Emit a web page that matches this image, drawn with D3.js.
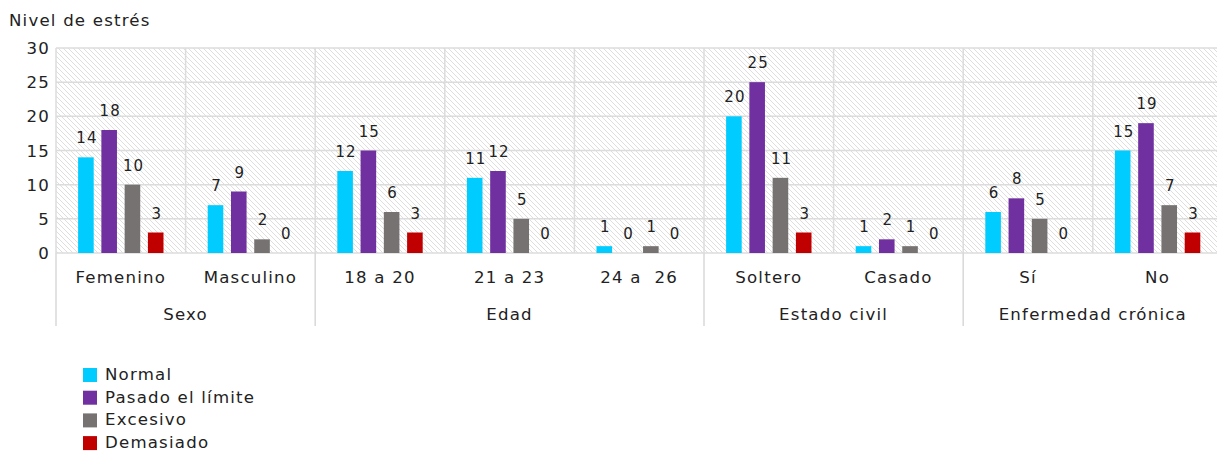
<!DOCTYPE html>
<html>
<head>
<meta charset="utf-8">
<script src="https://cdn.jsdelivr.net/npm/d3@7"></script>
<style>
  body { margin: 0; background: #fff; }
  text { font-family: "DejaVu Sans", Verdana, sans-serif; font-size: 16.6px; fill: #222; letter-spacing: 1.2px; }
</style>
</head>
<body>
<div id="chart"></div>
<script>
// Categories and their groups
var categories = ["Femenino", "Masculino", "18 a 20", "21 a 23", "24 a  26", "Soltero", "Casado", "Sí", "No"];
var groups = ["Sexo", "Edad", "Estado civil", "Enfermedad crónica"];
var groupSizes = [2, 3, 2, 2];

// Series values, one per category
var series = ["Normal", "Pasado el límite", "Excesivo", "Demasiado"];
var normal    = [14, 7, 12, 11, 1, 20, 1, 6, 15];
var pasado    = [18, 9, 15, 12, 0, 25, 2, 8, 19];
var excesivo  = [10, 2, 6, 5, 1, 11, 1, 5, 7];
var demasiado = [3, 0, 3, 0, 0, 3, 0, 0, 3];
var colors = ["#00ccff", "#7030a0", "#777272", "#c00000"];

var yTicks = [0, 5, 10, 15, 20, 25, 30];

var width = 1217, height = 452;
var plotLeft = 56, plotTop = 48, zeroY = 253;
var colWidth = 129.6;

var svg = d3.select("#chart").append("svg")
  .attr("width", width)
  .attr("height", height);

// hatch pattern for the plot background
var pat = svg.append("defs").append("pattern")
  .attr("id", "hatch")
  .attr("patternUnits", "userSpaceOnUse")
  .attr("width", 5)
  .attr("height", 5);
pat.append("rect").attr("width", 5).attr("height", 5).attr("fill", "#fff");
pat.append("path")
  .attr("d", "M-1,-1 L6,6 M-1,4 L1,6 M4,-1 L6,1")
  .attr("stroke", "#dedede")
  .attr("stroke-width", 1);

var x = d3.scaleBand()
  .domain(categories)
  .range([plotLeft, plotLeft + colWidth * categories.length]);

var xs = d3.scaleBand()
  .domain(series)
  .range([0, colWidth])
  .paddingInner(0.33)
  .paddingOuter(0.95);

var y = d3.scaleLinear()
  .domain([0, 30])
  .range([zeroY, plotTop]);

var plotRight = plotLeft + colWidth * categories.length;

svg.append("rect")
  .attr("x", plotLeft)
  .attr("y", plotTop)
  .attr("width", plotRight - plotLeft)
  .attr("height", zeroY - plotTop)
  .attr("fill", "url(#hatch)");

// horizontal grid
svg.selectAll("line.hgrid")
  .data(yTicks)
  .enter().append("line")
    .attr("class", "hgrid")
    .attr("x1", plotLeft)
    .attr("x2", plotRight)
    .attr("y1", function (d) { return y(d); })
    .attr("y2", function (d) { return y(d); })
    .attr("stroke", "#dcdcdc")
    .attr("stroke-width", 1.5);

// vertical grid at category edges
svg.selectAll("line.vgrid")
  .data(categories)
  .enter().append("line")
    .attr("class", "vgrid")
    .attr("x1", function (d) { return x(d); })
    .attr("x2", function (d) { return x(d); })
    .attr("y1", plotTop)
    .attr("y2", zeroY)
    .attr("stroke", "#dcdcdc")
    .attr("stroke-width", 1.5);

// group separators below the axis
var groupStart = [];
var acc = 0;
groupSizes.forEach(function (n) { groupStart.push(acc); acc += n; });

svg.selectAll("line.gsep")
  .data(groupStart)
  .enter().append("line")
    .attr("class", "gsep")
    .attr("x1", function (d) { return x(categories[d]); })
    .attr("x2", function (d) { return x(categories[d]); })
    .attr("y1", zeroY)
    .attr("y2", 326)
    .attr("stroke", "#d8d8d8")
    .attr("stroke-width", 1.5);

// y tick labels
svg.selectAll("text.ytick")
  .data(yTicks)
  .enter().append("text")
    .attr("class", "ytick")
    .attr("x", 50)
    .attr("y", function (d) { return y(d) + 6; })
    .attr("text-anchor", "end")
    .text(function (d) { return d; });

svg.append("text")
  .attr("x", 9)
  .attr("y", 26)
  .text("Nivel de estrés");

// bars
var table = categories.map(function (c, i) {
  return [normal[i], pasado[i], excesivo[i], demasiado[i]].map(function (v, j) {
    return { cat: c, s: series[j], v: v, color: colors[j] };
  });
});

var cols = svg.selectAll("g.col")
  .data(table)
  .enter().append("g")
    .attr("class", "col")
    .attr("transform", function (d, i) { return "translate(" + x(categories[i]) + ",0)"; });

cols.selectAll("rect")
  .data(function (d) { return d; })
  .enter().append("rect")
    .attr("x", function (d) { return xs(d.s); })
    .attr("y", function (d) { return y(d.v); })
    .attr("width", xs.bandwidth())
    .attr("height", function (d) { return zeroY - y(d.v); })
    .attr("fill", function (d) { return d.color; });

cols.selectAll("text.val")
  .data(function (d) { return d; })
  .enter().append("text")
    .attr("class", "val")
    .attr("x", function (d) { return xs(d.s) + xs.bandwidth() / 2 + 1; })
    .attr("y", function (d) { return y(d.v) - 14; })
    .attr("text-anchor", "middle")
    .style("font-size", "15px")
    .style("letter-spacing", "1px")
    .text(function (d) { return d.v; });

// category labels
svg.selectAll("text.cat")
  .data(categories)
  .enter().append("text")
    .attr("class", "cat")
    .attr("x", function (d) { return x(d) + x.bandwidth() / 2; })
    .attr("y", 283)
    .attr("text-anchor", "middle")
    .style("white-space", "pre")
    .text(function (d) { return d; });

// group labels
svg.selectAll("text.grp")
  .data(groups)
  .enter().append("text")
    .attr("class", "grp")
    .attr("x", function (d, i) {
      var a = x(categories[groupStart[i]]);
      return a + groupSizes[i] * colWidth / 2;
    })
    .attr("y", 320)
    .attr("text-anchor", "middle")
    .text(function (d) { return d; });

// legend
var legend = svg.selectAll("g.leg")
  .data(series)
  .enter().append("g")
    .attr("class", "leg")
    .attr("transform", function (d, i) { return "translate(83," + (368 + i * 22.7) + ")"; });

legend.append("rect")
  .attr("width", 14)
  .attr("height", 14)
  .attr("fill", function (d, i) { return colors[i]; });

legend.append("text")
  .attr("x", 22)
  .attr("y", 12)
  .text(function (d) { return d; });
</script>
</body>
</html>
